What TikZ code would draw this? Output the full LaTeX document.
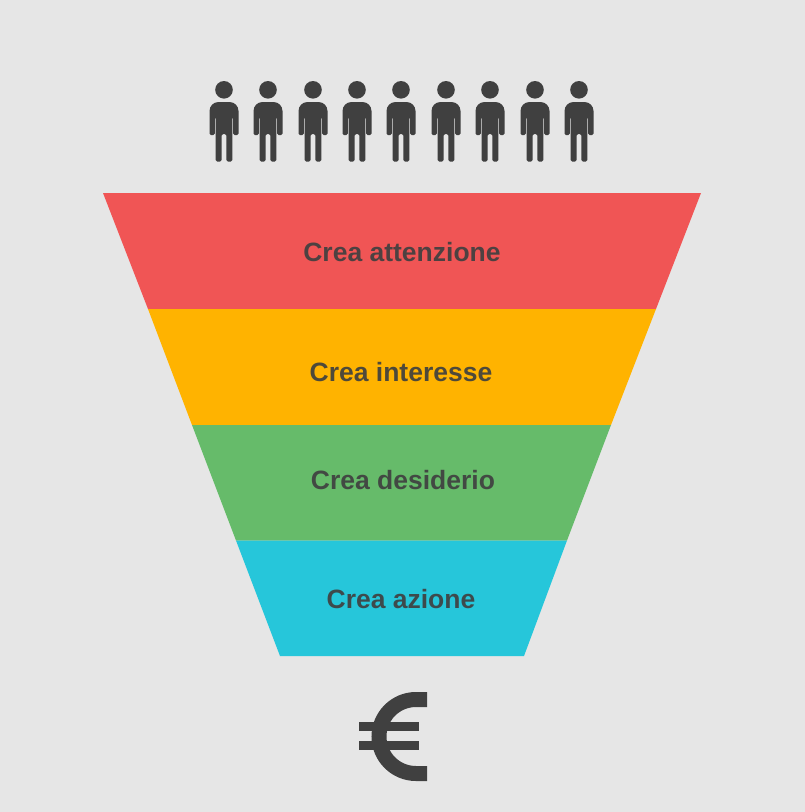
\documentclass[tikz,border=0pt]{standalone}
\usepackage{fontspec}
\setmainfont{Liberation Sans}
\definecolor{paper}{HTML}{E6E6E6}
\definecolor{ink}{HTML}{404040}
\definecolor{redband}{HTML}{F05555}
\definecolor{orangeband}{HTML}{FFB300}
\definecolor{greenband}{HTML}{66BB6A}
\definecolor{cyanband}{HTML}{26C6DA}
\tikzset{
	label text/.style = {text = ink, text opacity = .92, font = \fontsize{26.5}{30}\selectfont\bfseries, inner sep = 0pt},
	person/.pic = {
		\fill[ink] (0,8.8) circle (8.8);
		\fill[ink, rounded corners = 1.5] (-9.2,36) -- (-9.2,54) -- (-14.5,54) [rounded corners = 9] -- (-14.5,21) -- (14.5,21) [rounded corners = 1.5] -- (14.5,54) -- (9.2,54) -- (9.2,36) -- (8.3,36) -- (8.3,80.5) -- (2.3,80.5) -- (2.3,53) -- (-2.3,53) -- (-2.3,80.5) -- (-8.3,80.5) -- (-8.3,36) -- cycle;
	}
}

\begin{document}
\begin{tikzpicture}[x = 1pt, y = -1pt]

	\fill[paper] (0,0) rectangle (805,812);
	\useasboundingbox (0,0) rectangle (805,812);

	\pic at (224,81) {person};
	\pic at (268,81) {person};
	\pic at (313,81) {person};
	\pic at (357,81) {person};
	\pic at (401,81) {person};
	\pic at (446,81) {person};
	\pic at (490,81) {person};
	\pic at (535,81) {person};
	\pic at (579,81) {person};

	\coordinate (a) at (103,193);
	\coordinate (b) at (701,193);
	\coordinate (c) at (656,309);
	\coordinate (d) at (148,309);
	\coordinate (e) at (192,425);
	\coordinate (f) at (611,425);
	\coordinate (g) at (567,540.5);
	\coordinate (h) at (236,540.5);
	\coordinate (i) at (280,656);
	\coordinate (j) at (524,656);

	\fill[redband](a) -- (b) -- (c) -- (d) -- cycle;
	\fill[orangeband](d) -- (c) -- (f) -- (e) -- cycle;
	\fill[greenband](e) -- (f) -- (g) -- (h) -- cycle;
	\fill[cyanband](h) -- (g) -- (j) -- (i) -- cycle;

	\node[label text] (attenzione) at (402,252) {Crea attenzione};
	\node[label text] (interesse) at (401,372) {Crea interesse};
	\node[label text] (desiderio) at (403,480) {Crea desiderio};
	\node[label text] (azione) at (401,599) {Crea azione};

	\draw[ink, line width = 15pt] (427,699.5) -- (416,699.5) arc[start angle = -90, end angle = -270, radius = 37] -- (427,773.5);
	\fill[ink] (359,722) rectangle (419,731);
	\fill[ink] (359,741) rectangle (419,749.5);

\end{tikzpicture}
\end{document}
